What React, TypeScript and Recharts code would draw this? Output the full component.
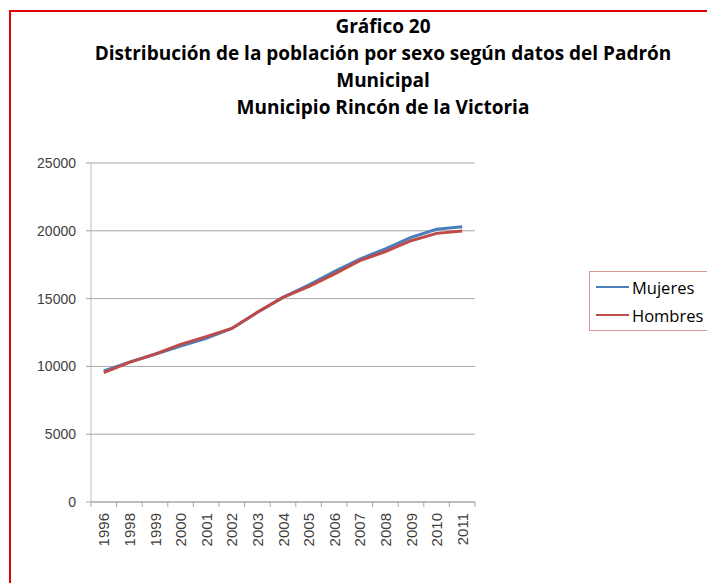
import React from 'react';
import { LineChart, Line, XAxis, YAxis, CartesianGrid } from 'recharts';

// Padrón Municipal, Rincón de la Victoria (1997 missing in the source)
const years = ['1996', '1998', '1999', '2000', '2001', '2002', '2003', '2004', '2005', '2006', '2007', '2008', '2009', '2010', '2011'];
const mujeres = [9660, 10320, 10900, 11500, 12070, 12800, 13990, 15090, 16000, 16990, 17920, 18660, 19520, 20110, 20300];
const hombres = [9540, 10300, 10900, 11630, 12200, 12800, 13990, 15090, 15880, 16810, 17800, 18460, 19270, 19810, 19990];
const yTicks = [0, 5000, 10000, 15000, 20000, 25000];

const titleLines = [
  'Gráfico 20',
  'Distribución de la población por sexo según datos del Padrón',
  'Municipal',
  'Municipio Rincón de la Victoria',
];

const W = 707;
const H = 583;
const MARGIN = { top: 163, right: 232, bottom: 21, left: 0 };
const Y_AXIS_W = 91;
const PLOT_W = W - MARGIN.left - MARGIN.right - Y_AXIS_W;
const HALF_BAND = PLOT_W / years.length / 2;

const BLUE = '#4a7ebb';
const RED = '#be4b48';
const AXIS = '#a6a6a6';
const TEXT = '#404040';
const FONT = '"Liberation Sans", Arial, sans-serif';

const series = [
  { key: 'Mujeres', color: BLUE },
  { key: 'Hombres', color: RED },
];

const data = years.map((year, i) => ({ year, Mujeres: mujeres[i], Hombres: hombres[i] }));

// Excel-style category axis: tick marks between categories, labels rotated
const XTick = (props: any) => {
  const { x, y, payload, index } = props;
  const ty = y + 11;
  return (
    <g>
      <line x1={x - HALF_BAND} x2={x - HALF_BAND} y1={y} y2={y + 5} stroke={AXIS} />
      {index === years.length - 1 && (
        <line x1={x + HALF_BAND} x2={x + HALF_BAND} y1={y} y2={y + 5} stroke={AXIS} />
      )}
      <text
        x={x}
        y={ty}
        transform={`rotate(-90 ${x} ${ty})`}
        textAnchor="end"
        dominantBaseline="central"
        fill={TEXT}
        fontSize={15}
        fontFamily={FONT}
      >
        {payload.value}
      </text>
    </g>
  );
};

export default function App() {
  return (
    <div style={{ position: 'absolute', left: 0, top: 0, width: W, height: H, overflow: 'hidden', background: '#fff' }}>
      <div
        style={{
          position: 'absolute',
          left: 9,
          top: 10,
          width: 800,
          height: 800,
          border: '2px solid #e00000',
        }}
      />
      <div
        style={{
          position: 'absolute',
          left: 9,
          top: 13,
          width: 748,
          textAlign: 'center',
          fontFamily: '"Open Sans", sans-serif',
          fontWeight: 700,
          fontSize: 19,
          lineHeight: '27px',
          color: '#000',
        }}
      >
        {titleLines.map((t) => (
          <div key={t}>{t}</div>
        ))}
      </div>
      <div style={{ position: 'absolute', left: 0, top: 0 }}>
        <LineChart width={W} height={H} data={data} margin={MARGIN}>
          <CartesianGrid vertical={false} stroke={AXIS} strokeWidth={1} />
          <XAxis
            dataKey="year"
            interval={0}
            height={60}
            padding={{ left: HALF_BAND, right: HALF_BAND }}
            tickLine={false}
            tickSize={0}
            tickMargin={0}
            axisLine={{ stroke: AXIS }}
            tick={<XTick />}
          />
          <YAxis
            width={Y_AXIS_W}
            domain={[0, 25000]}
            ticks={yTicks}
            interval={0}
            tickSize={5}
            tickMargin={10}
            tickLine={{ stroke: AXIS }}
            axisLine={{ stroke: '#bfbfbf' }}
            tick={{ fill: TEXT, fontSize: 14, fontFamily: FONT }}
          />
          {series.map((s) => (
            <Line
              key={s.key}
              type="linear"
              dataKey={s.key}
              stroke={s.color}
              strokeWidth={3}
              dot={false}
              isAnimationActive={false}
            />
          ))}
        </LineChart>
      </div>
      <div
        style={{
          position: 'absolute',
          left: 589,
          top: 271,
          width: 140,
          height: 60,
          border: '1.5px solid #d99694',
          boxSizing: 'border-box',
          background: '#fff',
          paddingTop: 1,
        }}
      >
        {series.map((s) => (
          <div key={s.key} style={{ display: 'flex', alignItems: 'center', height: 28 }}>
            <span style={{ display: 'inline-block', width: 33, height: 2.5, background: s.color, marginLeft: 6 }} />
            <span style={{ marginLeft: 3, fontFamily: '"Open Sans", sans-serif', fontSize: 16.5, color: '#000' }}>
              {s.key}
            </span>
          </div>
        ))}
      </div>
    </div>
  );
}
